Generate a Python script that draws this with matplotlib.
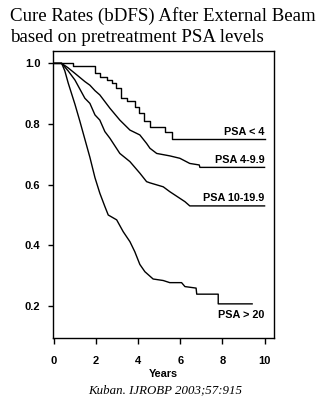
import matplotlib
matplotlib.use('Agg')
import matplotlib.pyplot as plt

# Biochemical disease-free survival by pretreatment PSA group (years, fraction)
# PSA < 4 is drawn as a step curve, the others as traced outlines
t_lt4 = [0, 0.92, 1.95, 2.2, 2.5, 2.75, 2.97, 3.2, 3.45, 3.84, 4.05, 4.3, 4.56, 5.27, 5.59, 10.0]
s_lt4 = [1.0, 0.991, 0.967, 0.955, 0.945, 0.935, 0.918, 0.885, 0.875, 0.857, 0.835, 0.81, 0.789, 0.775, 0.75, 0.75]

t_4_10 = [0, 0.37, 0.68, 1.0, 1.47, 1.71, 1.95, 2.18, 2.66, 3.13, 3.61, 4.08, 4.4, 4.56, 4.88,
          5.5, 5.98, 6.45, 6.9, 6.93, 10.0]
s_4_10 = [1.0, 1.0, 0.985, 0.967, 0.94, 0.928, 0.91, 0.896, 0.852, 0.813, 0.78, 0.764, 0.736, 0.72, 0.703,
          0.695, 0.687, 0.67, 0.665, 0.657, 0.657]

t_10_20 = [0, 0.37, 0.68, 1.0, 1.47, 1.71, 1.95, 2.18, 2.42, 2.66, 3.13, 3.61, 4.08, 4.4, 4.56, 5.19,
           5.5, 5.98, 6.22, 6.45, 10.0]
s_10_20 = [1.0, 1.0, 0.975, 0.945, 0.885, 0.868, 0.83, 0.813, 0.775, 0.753, 0.703, 0.676, 0.638, 0.61, 0.606, 0.593,
           0.577, 0.555, 0.544, 0.53, 0.53]

t_gt20 = [0, 0.37, 0.52, 0.68, 1.0, 1.23, 1.47, 1.71, 1.95, 2.18, 2.42, 2.58, 2.98, 3.29, 3.61, 3.84,
          4.08, 4.32, 4.71, 5.19, 5.5, 6.06, 6.22, 6.75, 6.78, 7.8, 7.8, 9.41]
s_gt20 = [1.0, 1.0, 0.975, 0.935, 0.865, 0.81, 0.75, 0.69, 0.623, 0.572, 0.528, 0.50, 0.484, 0.445, 0.412, 0.379,
          0.337, 0.313, 0.289, 0.284, 0.277, 0.277, 0.264, 0.259, 0.239, 0.239, 0.207, 0.207]

labels = ['PSA < 4', 'PSA 4-9.9', 'PSA 10-19.9', 'PSA > 20']
label_y = [0.757, 0.665, 0.539, 0.161]

x_ticks = [0, 2, 4, 6, 8, 10]
y_ticks = [0.2, 0.4, 0.6, 0.8, 1.0]

sans = 'Liberation Sans'
serif = 'Liberation Serif'

fig = plt.figure(figsize=(3.26, 3.96), dpi=100)
ax = fig.add_axes([0.164, 0.1465, 0.676, 0.7245])

ax.step(t_lt4, s_lt4, where='post', color='black', linewidth=1.0)
for t, s in [(t_4_10, s_4_10), (t_10_20, s_10_20), (t_gt20, s_gt20)]:
    ax.plot(t, s, color='black', linewidth=1.0)

for lab, y in zip(labels, label_y):
    ax.text(10.0, y, lab, ha='right', va='bottom' if lab != 'PSA > 20' else 'baseline',
            fontsize=7.8, fontweight='bold', family=sans)

ax.set_xlim(-0.02, 10.44)
ax.set_ylim(0.0945, 1.0405)
ax.set_xticks(x_ticks)
ax.set_yticks(y_ticks)
ax.set_xticklabels([str(v) for v in x_ticks])
ax.set_yticklabels([f'{v:.1f}' for v in y_ticks])
ax.tick_params(axis='x', direction='out', length=4, width=1, pad=9)
ax.tick_params(axis='y', direction='out', length=3.5, width=1, pad=6)
for lbl in ax.get_xticklabels() + ax.get_yticklabels():
    lbl.set_fontsize(8)
    lbl.set_fontweight('bold')
    lbl.set_family(sans)
for sp in ax.spines.values():
    sp.set_linewidth(1.0)

ax.set_xlabel('Years', fontsize=7.8, fontweight='bold', family=sans, labelpad=2)

fig.text(10 / 326, 1 - 21 / 396, 'Cure Rates (bDFS) After External Beam', fontsize=13.6,
         family=serif, ha='left', va='baseline')
fig.text(10 / 326, 1 - 42 / 396, 'based on pretreatment PSA levels', fontsize=13.6,
         family=serif, ha='left', va='baseline')
fig.text(165.5 / 326, 1 - 393 / 396, 'Kuban. IJROBP 2003;57:915', fontsize=9.3,
         family=serif, style='italic', ha='center', va='baseline')

fig.savefig('out.png', dpi=100)
